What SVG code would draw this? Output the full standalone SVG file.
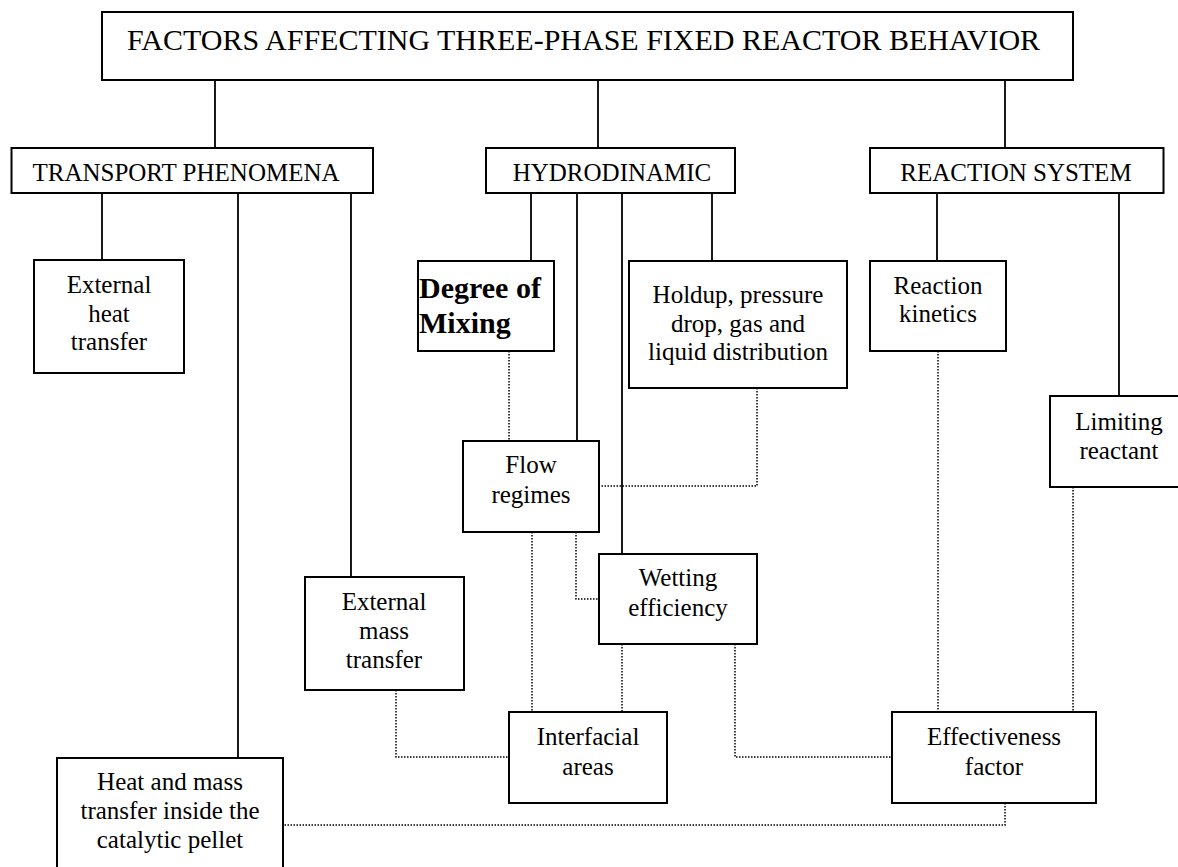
<svg xmlns="http://www.w3.org/2000/svg" width="1178" height="867" viewBox="0 0 1178 867">
<style>
rect{fill:#fff;stroke:#000;stroke-width:2}
text{font-family:"Liberation Serif","Times New Roman",serif;fill:#000;text-anchor:middle}
.t{font-size:30px}
.h{font-size:25px}
.b{font-size:25px}
.bold{font-size:30px;font-weight:bold;text-anchor:start}
.s{stroke:#000;stroke-width:1.8;fill:none}
.d{stroke:#000;stroke-width:1.5;fill:none;stroke-dasharray:1.5,1.5}
</style>
<rect x="0" y="0" width="1178" height="867" style="fill:#fff;stroke:none"/>
<g id="connectors">
<path class="s" d="M215,80V148M598,80V148M1005,80V148"/>
<path class="s" d="M102,193V260M238,193V758M351,193V577"/>
<path class="s" d="M531,193V261M577,193V441M622,193V554M712,193V261"/>
<path class="s" d="M937,193V261M1119,193V396"/>
<path class="d" d="M509,351V441"/>
<path class="d" d="M757,373V486H600"/>
<path class="d" d="M532,532V712"/>
<path class="d" d="M576,532V599H599"/>
<path class="d" d="M622,644V712"/>
<path class="d" d="M735,644V757H892"/>
<path class="d" d="M396,690V757H509"/>
<path class="d" d="M938,351V712"/>
<path class="d" d="M1073,487V712"/>
<path class="d" d="M1005,803V825H283"/>
</g>
<g id="title"><rect x="102" y="12" width="971" height="68"/><text class="t" x="583.5" y="50">FACTORS AFFECTING THREE-PHASE FIXED REACTOR BEHAVIOR</text></g>
<g id="transport"><rect x="11.5" y="148" width="361.5" height="45"/><text class="h" x="186" y="181">TRANSPORT PHENOMENA</text></g>
<g id="hydro"><rect x="486" y="148" width="249" height="45"/><text class="h" x="612" y="181">HYDRODINAMIC</text></g>
<g id="reaction"><rect x="870" y="148" width="293.5" height="45"/><text class="h" x="1016" y="181">REACTION SYSTEM</text></g>
<g id="extheat"><rect x="34" y="260" width="150" height="113"/><text class="b" x="109" y="293">External</text><text class="b" x="109" y="322">heat</text><text class="b" x="109" y="350">transfer</text></g>
<g id="degree"><rect x="418" y="261" width="136" height="90"/><text class="bold" x="419" y="298">Degree of</text><text class="bold" x="419" y="333">Mixing</text></g>
<g id="holdup"><rect x="629" y="261" width="218" height="127"/><text class="b" x="738" y="303">Holdup, pressure</text><text class="b" x="738" y="332">drop, gas and</text><text class="b" x="738" y="360">liquid distribution</text></g>
<g id="kinetics"><rect x="870" y="261" width="136" height="90"/><text class="b" x="938" y="294">Reaction</text><text class="b" x="938" y="322">kinetics</text></g>
<g id="limiting"><rect x="1050" y="396" width="140" height="91"/><text class="b" x="1119" y="430">Limiting</text><text class="b" x="1119" y="459">reactant</text></g>
<g id="flow"><rect x="463" y="441" width="136" height="91"/><text class="b" x="531" y="473">Flow</text><text class="b" x="531" y="503">regimes</text></g>
<g id="wetting"><rect x="599" y="554" width="158" height="90"/><text class="b" x="678" y="586">Wetting</text><text class="b" x="678" y="616">efficiency</text></g>
<g id="extmass"><rect x="305" y="577" width="159" height="113"/><text class="b" x="384" y="610">External</text><text class="b" x="384" y="639">mass</text><text class="b" x="384" y="668">transfer</text></g>
<g id="interfacial"><rect x="509" y="712" width="158" height="91"/><text class="b" x="588" y="745">Interfacial</text><text class="b" x="588" y="775">areas</text></g>
<g id="effectiveness"><rect x="892" y="712" width="204" height="91"/><text class="b" x="994" y="745">Effectiveness</text><text class="b" x="994" y="775">factor</text></g>
<g id="heatmass"><rect x="57" y="758" width="226" height="120"/><text class="b" x="170" y="790">Heat and mass</text><text class="b" x="170" y="819">transfer inside the</text><text class="b" x="170" y="848">catalytic pellet</text></g>
</svg>
